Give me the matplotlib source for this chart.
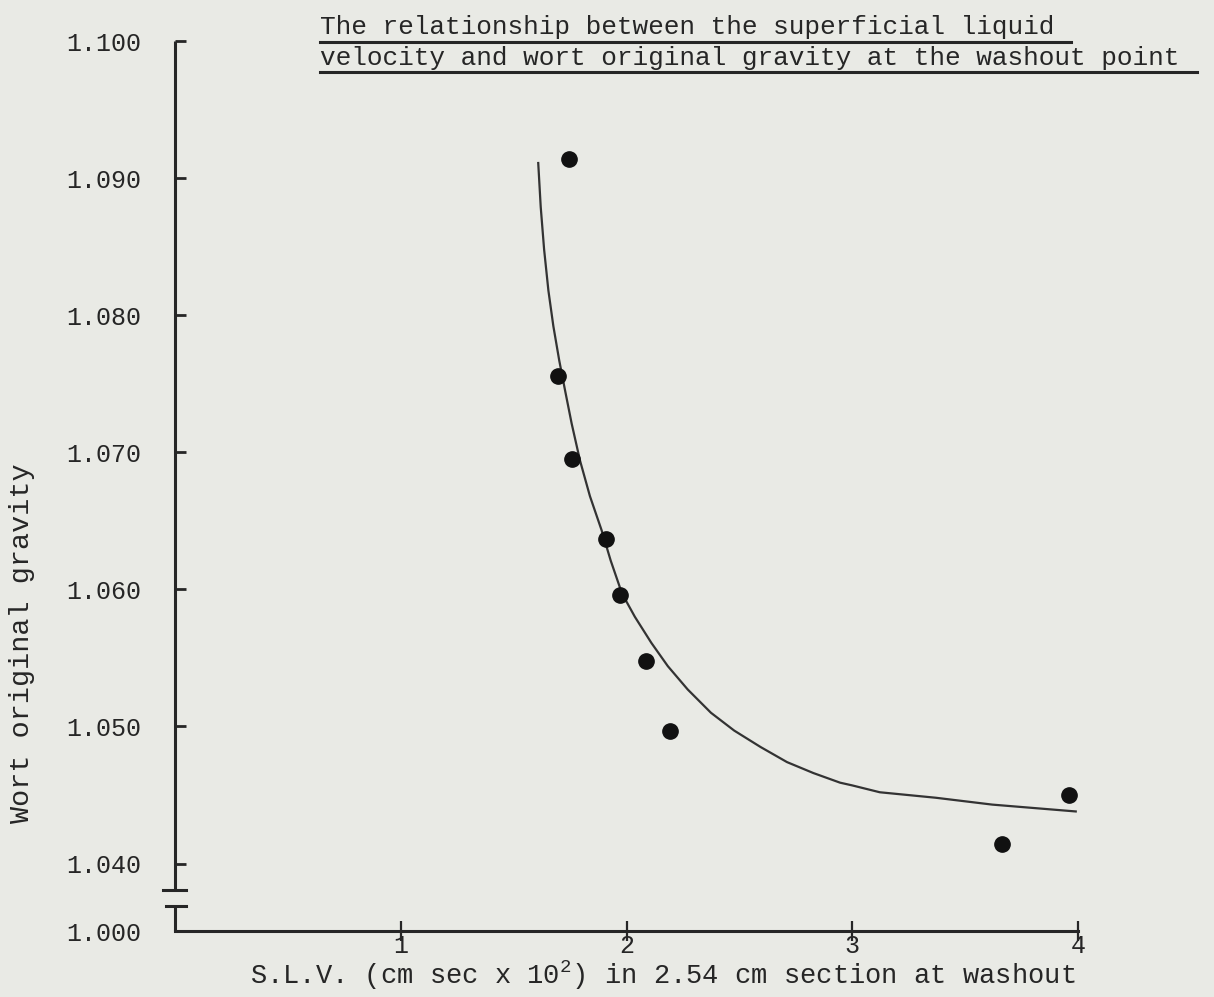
import matplotlib
matplotlib.use("Agg")
import matplotlib.pyplot as plt
from matplotlib.lines import Line2D

# ---- data ----
slv = [1.747, 1.695, 1.757, 1.908, 1.971, 2.085, 2.194, 3.664, 3.960]
gravity = [1.0914, 1.0756, 1.0695, 1.0637, 1.0596, 1.0548, 1.0497, 1.0414, 1.0450]

# hand-drawn fitted curve
curve_x = [1.609, 1.620, 1.635, 1.654, 1.676, 1.702, 1.728, 1.757, 1.794, 1.838,
           1.890, 1.930, 1.980, 2.037, 2.110, 2.183, 2.271, 2.374, 2.477, 2.594,
           2.711, 2.828, 2.946, 3.000, 3.122, 3.370, 3.620, 3.990]
curve_y = [1.0911, 1.0879, 1.0848, 1.0818, 1.0792, 1.0767, 1.0745, 1.0721, 1.0694, 1.0668,
           1.0643, 1.0621, 1.0597, 1.0580, 1.0561, 1.0544, 1.0527, 1.0510, 1.0497, 1.0485,
           1.0474, 1.0466, 1.0459, 1.0457, 1.0452, 1.0448, 1.0443, 1.0438]

x_ticks = [1, 2, 3, 4]
x_tick_labels = ["1", "2", "3", "4"]
y_ticks = [1.040, 1.050, 1.060, 1.070, 1.080, 1.090, 1.100]
y_tick_labels = ["1.040", "1.050", "1.060", "1.070", "1.080", "1.090", "1.100"]
y_break_label = "1.000"

title_lines = ["The relationship between the superficial liquid",
               "velocity and wort original gravity at the washout point"]
x_label = r"S.L.V. (cm sec x 10$^{\mathrm{2}}$) in 2.54 cm section at washout"
y_label = "Wort original gravity"

# ---- style ----
plt.rcParams["font.family"] = ["Liberation Mono", "DejaVu Sans Mono"]
plt.rcParams["mathtext.fontset"] = "custom"
plt.rcParams["mathtext.rm"] = "Liberation Mono"
plt.rcParams["mathtext.it"] = "Liberation Mono"
ink = "#262626"
paper = "#e9eae5"

W, H = 1214, 997
fig = plt.figure(figsize=(W / 100, H / 100), dpi=100, facecolor=paper)

# axes in pixel geometry
x0px, x1px = 175, 1078
ybot_px, ytop_px = 931, 41
ax = fig.add_axes([x0px / W, 1 - ybot_px / H, (x1px - x0px) / W, (ybot_px - ytop_px) / H])
ax.set_facecolor("none")

y_bottom = 1.03508   # position standing in for 1.000 below the break
ax.set_xlim(0, 4)
ax.set_ylim(y_bottom, 1.100)

for s in ["top", "right", "left"]:
    ax.spines[s].set_visible(False)
ax.spines["bottom"].set_linewidth(2.2)
ax.spines["bottom"].set_color(ink)

# broken left axis
brk_hi, brk_lo = 1.0381, 1.0369
ax.plot([0, 0], [brk_hi, 1.100], color=ink, lw=2.2, clip_on=False, solid_capstyle="butt")
ax.plot([0, 0], [y_bottom, brk_lo], color=ink, lw=2.2, clip_on=False, solid_capstyle="butt")
ax.plot([-0.053, 0.049], [brk_hi, brk_hi], color=ink, lw=2.2, clip_on=False)
ax.plot([-0.040, 0.049], [brk_lo, brk_lo], color=ink, lw=2.2, clip_on=False)

# ticks
ax.set_xticks(x_ticks)
ax.set_xticklabels(x_tick_labels)
ax.tick_params(axis="x", direction="inout", length=14, width=1.6, color=ink,
               labelsize=18, labelcolor=ink, pad=-5)
ax.set_yticks([y_bottom] + y_ticks)
ax.set_yticklabels([y_break_label] + y_tick_labels)
ax.tick_params(axis="y", direction="in", length=8, width=2.0, color=ink,
               labelsize=18, labelcolor=ink, pad=24)

# data
ax.plot(curve_x, curve_y, color="#333333", lw=1.6, clip_on=False, zorder=2,
        solid_joinstyle="round")
ax.plot(slv, gravity, "o", color="#111111", ms=11, clip_on=False, zorder=3)

# title with underlines
tx = 320 / W
fig.text(tx, 1 - 34 / H, title_lines[0], fontsize=18.8, color=ink, ha="left", va="baseline")
fig.text(tx, 1 - 65 / H, title_lines[1], fontsize=18.8, color=ink, ha="left", va="baseline")
fig.add_artist(Line2D([320 / W, 1071 / W], [1 - 42 / H, 1 - 42 / H], color=ink, lw=2.2,
                      transform=fig.transFigure))
fig.add_artist(Line2D([320 / W, 1197 / W], [1 - 72 / H, 1 - 72 / H], color=ink, lw=2.2,
                      transform=fig.transFigure))

# axis labels
fig.text(663 / W, 1 - 984 / H, x_label, fontsize=19.5, color=ink, ha="center", va="baseline")
fig.text(22 / W, 1 - 643 / H, y_label, fontsize=20.5, color=ink, ha="center", va="center",
         rotation=90)

fig.savefig("out.png", dpi=100, facecolor=paper)
